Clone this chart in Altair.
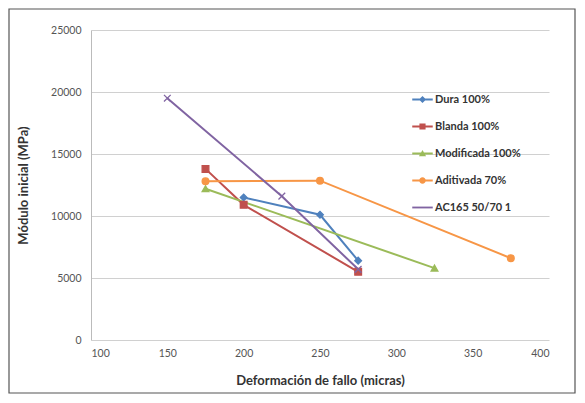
import altair as alt
import pandas as pd

series_names = ["Dura 100%", "Blanda 100%", "Modificada  100%", "Aditivada 70%", "AC165 50/70 1"]
series_colors = ["#4F81BD", "#C0504D", "#9BBB59", "#F79646", "#8064A2"]

dura_x = [200, 250, 275]
dura_y = [11500, 10100, 6400]
blanda_x = [175, 200, 275]
blanda_y = [13800, 10900, 5500]
modif_x = [175, 325]
modif_y = [12200, 5800]
aditiv_x = [175, 250, 375]
aditiv_y = [12800, 12850, 6600]
ac_x = [150, 225, 275]
ac_y = [19500, 11600, 5700]

x_ticks = [100, 150, 200, 250, 300, 350, 400]
y_ticks = [0, 5000, 10000, 15000, 20000, 25000]

rows = []
for name, xs, ys in [
    (series_names[0], dura_x, dura_y),
    (series_names[1], blanda_x, blanda_y),
    (series_names[2], modif_x, modif_y),
    (series_names[3], aditiv_x, aditiv_y),
    (series_names[4], ac_x, ac_y),
]:
    for i, (xv, yv) in enumerate(zip(xs, ys)):
        rows.append({"serie": name, "x": xv, "y": yv, "order": i})
df = pd.DataFrame(rows)

marker_shapes = [
    "diamond",
    "square",
    "triangle-up",
    "circle",
    "M-1,-1L1,1M-1,1L1,-1",
]
bar = "M-1,-0.09H1V0.09H-1Z"
legend_shapes = [
    bar + "M0,-0.35L0.35,0L0,0.35L-0.35,0Z",
    bar + "M-0.3,-0.3H0.3V0.3H-0.3Z",
    bar + "M0,-0.35L0.35,0.28H-0.35Z",
    bar + "M-0.32,0A0.32,0.32 0 1,1 0.32,0A0.32,0.32 0 1,1 -0.32,0Z",
    bar,
]

FONT = "Lato"
W, H = 458, 310

xenc = alt.X("x:Q", scale=alt.Scale(domain=[100, 400], nice=False),
             axis=alt.Axis(values=x_ticks, format="d", title="Deformación de fallo (micras)", grid=False))
yenc = alt.Y("y:Q", scale=alt.Scale(domain=[0, 25000], nice=False),
             axis=alt.Axis(values=y_ticks, format="d", title="Módulo inicial (MPa)", grid=True))
cscale = alt.Scale(domain=series_names, range=series_colors)

lines = alt.Chart(df).mark_line(strokeWidth=2).encode(
    x=xenc, y=yenc,
    color=alt.Color("serie:N", scale=cscale, legend=None),
    order="order:Q",
    detail="serie:N",
)

points = alt.Chart(df).mark_point(filled=True, size=45, strokeWidth=1.3, opacity=1).encode(
    x="x:Q", y="y:Q",
    color=alt.Color("serie:N", scale=cscale, legend=None),
    stroke=alt.Stroke("serie:N", scale=cscale, legend=None),
    shape=alt.Shape("serie:N", scale=alt.Scale(domain=series_names, range=marker_shapes), legend=None),
)

leg = dict(title=None, orient="none", legendX=321, legendY=59,
           symbolSize=420, symbolStrokeWidth=0, rowPadding=11,
           labelFont=FONT, labelFontSize=11, labelFontWeight="bold",
           labelColor="#333333", labelOffset=2, labelLimit=200)

legend_layer = alt.Chart(df).transform_filter("false").mark_point(filled=True, opacity=1).encode(
    x="x:Q", y="y:Q",
    color=alt.Color("serie:N", scale=cscale, legend=alt.Legend(**leg)),
    shape=alt.Shape("serie:N", scale=alt.Scale(domain=series_names, range=legend_shapes),
                    legend=alt.Legend(**leg)),
)

border = alt.Chart(pd.DataFrame({"a": [0]})).mark_rect(
    fillOpacity=0, stroke="#555555", strokeWidth=1.2, clip=False
).encode(x=alt.value(-82), x2=alt.value(484), y=alt.value(-21), y2=alt.value(363))

chart = alt.layer(border, lines, points, legend_layer).resolve_scale(
    shape="independent", color="independent", stroke="independent"
).properties(
    width=W, height=H,
    autosize=alt.AutoSizeParams(type="none"),
    padding={"left": 83, "top": 22, "right": 28, "bottom": 55},
).configure_view(stroke=None).configure_axis(
    labelFont=FONT, labelFontSize=10.5, labelColor="#555555",
    titleFont=FONT, titleFontSize=13, titleFontWeight="bold", titleColor="#333333",
    domainColor="#BBBBBB", gridColor="#D0D0D0", gridWidth=1.2, ticks=False,
).configure_axisX(labelPadding=8, titlePadding=16, domain=False).configure_axisY(
    labelPadding=10, titlePadding=20, domain=True
)

chart.save("out.html", embed_options={"renderer": "svg", "actions": False})
